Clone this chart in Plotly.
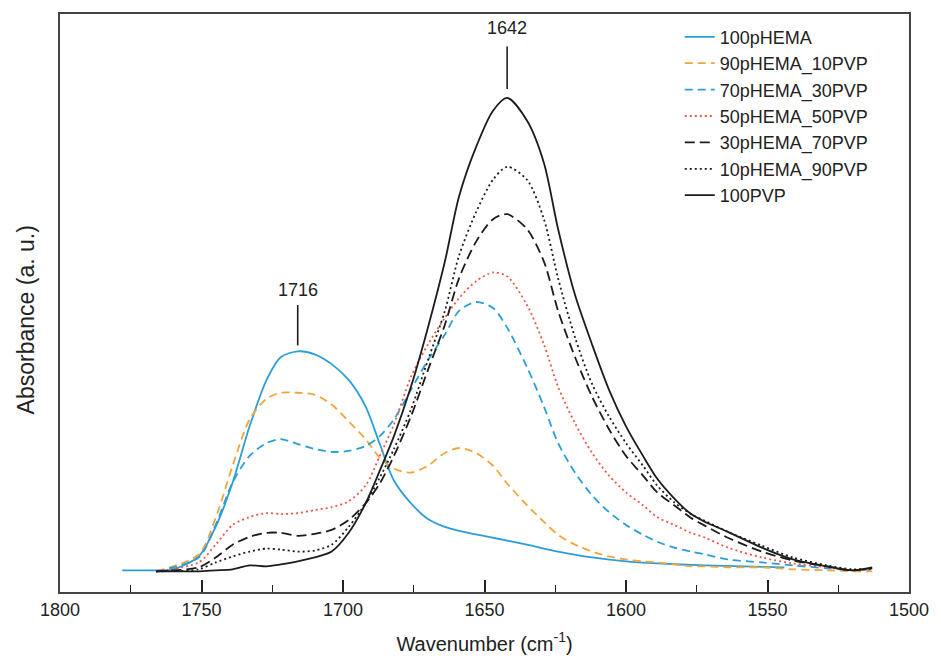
import plotly.graph_objects as go

# Wavenumber grid (cm^-1) for the blend spectra
wn_grid = [1766, 1751, 1745, 1739, 1733, 1727, 1722, 1716, 1710, 1704, 1698, 1692,
           1687, 1682, 1676, 1670, 1664, 1659, 1653, 1647, 1642, 1635, 1629, 1624,
           1618, 1612, 1606, 1600, 1594, 1589, 1583, 1577, 1572, 1564, 1552, 1541,
           1529, 1520, 1513]

# 100pHEMA has its own sampling
wn_phema = [1778, 1766, 1760, 1751, 1745, 1739, 1733, 1727, 1722, 1716, 1710, 1704,
            1698, 1692, 1687, 1682, 1676, 1670, 1664, 1659, 1647, 1635, 1624, 1612,
            1600, 1589, 1572, 1558, 1544]
abs_100pHEMA = [0.22, 0.22, 0.23, 0.36, 0.66, 1.11, 1.68, 2.15, 2.38, 2.44, 2.41, 2.31,
                2.15, 1.88, 1.50, 1.13, 0.90, 0.74, 0.66, 0.62, 0.55, 0.48, 0.41, 0.35,
                0.31, 0.29, 0.27, 0.26, 0.25]

abs_90_10 = [0.21, 0.38, 0.75, 1.28, 1.75, 1.96, 2.02, 2.02, 2.00, 1.90, 1.73, 1.55,
             1.36, 1.25, 1.21, 1.28, 1.41, 1.46, 1.41, 1.28, 1.10, 0.88, 0.71, 0.58,
             0.48, 0.41, 0.36, 0.33, 0.31, 0.30, 0.28, 0.26, 0.26, 0.25, 0.25, 0.23,
             0.22, 0.21, 0.21]
abs_70_30 = [0.21, 0.35, 0.68, 1.11, 1.38, 1.51, 1.55, 1.50, 1.45, 1.42, 1.43, 1.48,
             1.58, 1.75, 2.05, 2.35, 2.61, 2.85, 2.94, 2.88, 2.68, 2.28, 1.88, 1.51,
             1.21, 0.98, 0.81, 0.68, 0.58, 0.51, 0.45, 0.41, 0.38, 0.33, 0.30, 0.27,
             0.24, 0.22, 0.23]
abs_50_50 = [0.21, 0.30, 0.48, 0.68, 0.76, 0.80, 0.79, 0.80, 0.83, 0.86, 0.92, 1.08,
             1.38, 1.70, 2.18, 2.51, 2.78, 2.98, 3.15, 3.24, 3.20, 2.91, 2.51, 2.08,
             1.71, 1.41, 1.18, 1.01, 0.88, 0.76, 0.68, 0.60, 0.55, 0.45, 0.35, 0.29,
             0.25, 0.22, 0.23]
abs_30_70 = [0.21, 0.25, 0.35, 0.48, 0.56, 0.60, 0.60, 0.57, 0.59, 0.63, 0.73, 0.90,
             1.10, 1.38, 1.78, 2.25, 2.71, 3.18, 3.55, 3.78, 3.83, 3.68, 3.35, 2.85,
             2.38, 1.98, 1.65, 1.38, 1.18, 1.01, 0.88, 0.75, 0.67, 0.55, 0.41, 0.32,
             0.26, 0.22, 0.24]
abs_10_90 = [0.21, 0.23, 0.30, 0.36, 0.41, 0.44, 0.43, 0.41, 0.42, 0.48, 0.66, 0.90,
             1.16, 1.45, 1.85, 2.35, 2.85, 3.41, 3.85, 4.18, 4.31, 4.18, 3.78, 3.18,
             2.58, 2.11, 1.78, 1.51, 1.28, 1.08, 0.91, 0.79, 0.72, 0.61, 0.47, 0.35,
             0.27, 0.23, 0.24]
abs_100PVP = [0.21, 0.21, 0.22, 0.23, 0.27, 0.26, 0.28, 0.31, 0.35, 0.41, 0.60, 0.90,
              1.23, 1.58, 2.08, 2.68, 3.35, 4.01, 4.51, 4.88, 5.01, 4.78, 4.35, 3.68,
              3.01, 2.51, 2.05, 1.68, 1.38, 1.15, 0.95, 0.79, 0.71, 0.61, 0.45, 0.33,
              0.26, 0.22, 0.25]

names = ["100pHEMA", "90pHEMA_10PVP", "70pHEMA_30PVP", "50pHEMA_50PVP",
         "30pHEMA_70PVP", "10pHEMA_90PVP", "100PVP"]

# peak labels: wavenumber, line bottom, line top, label level (absorbance units)
peak_wn = [1642, 1716]
peak_line_lo = [5.10, 2.50]
peak_line_hi = [5.53, 2.91]
peak_text_y = [5.72, 3.06]

BLUE = "#2b9ed8"
ORANGE = "#f2a53c"
RED = "#e9564a"
BLACK = "#1c1c1c"

series = [
    (wn_phema, abs_100pHEMA, BLUE, "solid"),
    (wn_grid, abs_90_10, ORANGE, "8px,5px"),
    (wn_grid, abs_70_30, BLUE, "8px,5px"),
    (wn_grid, abs_50_50, RED, "2px,3px"),
    (wn_grid, abs_30_70, BLACK, "10px,5px"),
    (wn_grid, abs_10_90, BLACK, "2px,3px"),
    (wn_grid, abs_100PVP, BLACK, "solid"),
]

fig = go.Figure()
for name, (xs, ys, col, dash) in zip(names, series):
    fig.add_trace(go.Scatter(
        x=xs, y=ys, mode="lines", name=name,
        line=dict(color=col, width=1.8, dash=dash, shape="spline", smoothing=0.8),
    ))

for wn, lo, hi, ty in zip(peak_wn, peak_line_lo, peak_line_hi, peak_text_y):
    fig.add_shape(type="line", xref="x", yref="y", x0=wn, x1=wn, y0=lo, y1=hi,
                  line=dict(color=BLACK, width=1.6))
    fig.add_annotation(x=wn, y=ty, xref="x", yref="y", text=str(wn), showarrow=False,
                       font=dict(size=18, color="#222"))

# y-axis title as a rotated annotation (positioned like the reference)
fig.add_annotation(x=-0.04, y=0.47, xref="paper", yref="paper",
                   text="Absorbance (a. u.)", textangle=-90, showarrow=False,
                   xanchor="center", yanchor="middle",
                   font=dict(size=23, color="#222"))

fig.update_layout(
    width=941, height=664,
    margin=dict(l=60, r=25, t=12, b=66),
    paper_bgcolor="white", plot_bgcolor="white",
    font=dict(family="Liberation Sans, Arial, sans-serif", color="#222"),
    showlegend=True,
    legend=dict(x=0.73, y=0.992, xanchor="left", yanchor="top",
                bgcolor="rgba(0,0,0,0)", font=dict(size=18, color="#222"),
                tracegroupgap=0),
    xaxis=dict(
        range=[1800, 1500], showgrid=False, zeroline=False,
        showline=True, linecolor="#444", linewidth=2, mirror=True,
        ticks="inside", ticklen=12, tickwidth=1.5, tickcolor="#222",
        dtick=50, tick0=1500, tickfont=dict(size=18),
        minor=dict(ticks="inside", ticklen=7, dtick=25, tickwidth=1.2, tickcolor="#222"),
        title=dict(text="Wavenumber (cm<sup>-1</sup>)", font=dict(size=20), standoff=18),
    ),
    yaxis=dict(
        range=[0, 5.86], showgrid=False, zeroline=False,
        showline=True, linecolor="#444", linewidth=2, mirror=True,
        ticks="", showticklabels=False,
    ),
)

fig.write_html("out.html")
